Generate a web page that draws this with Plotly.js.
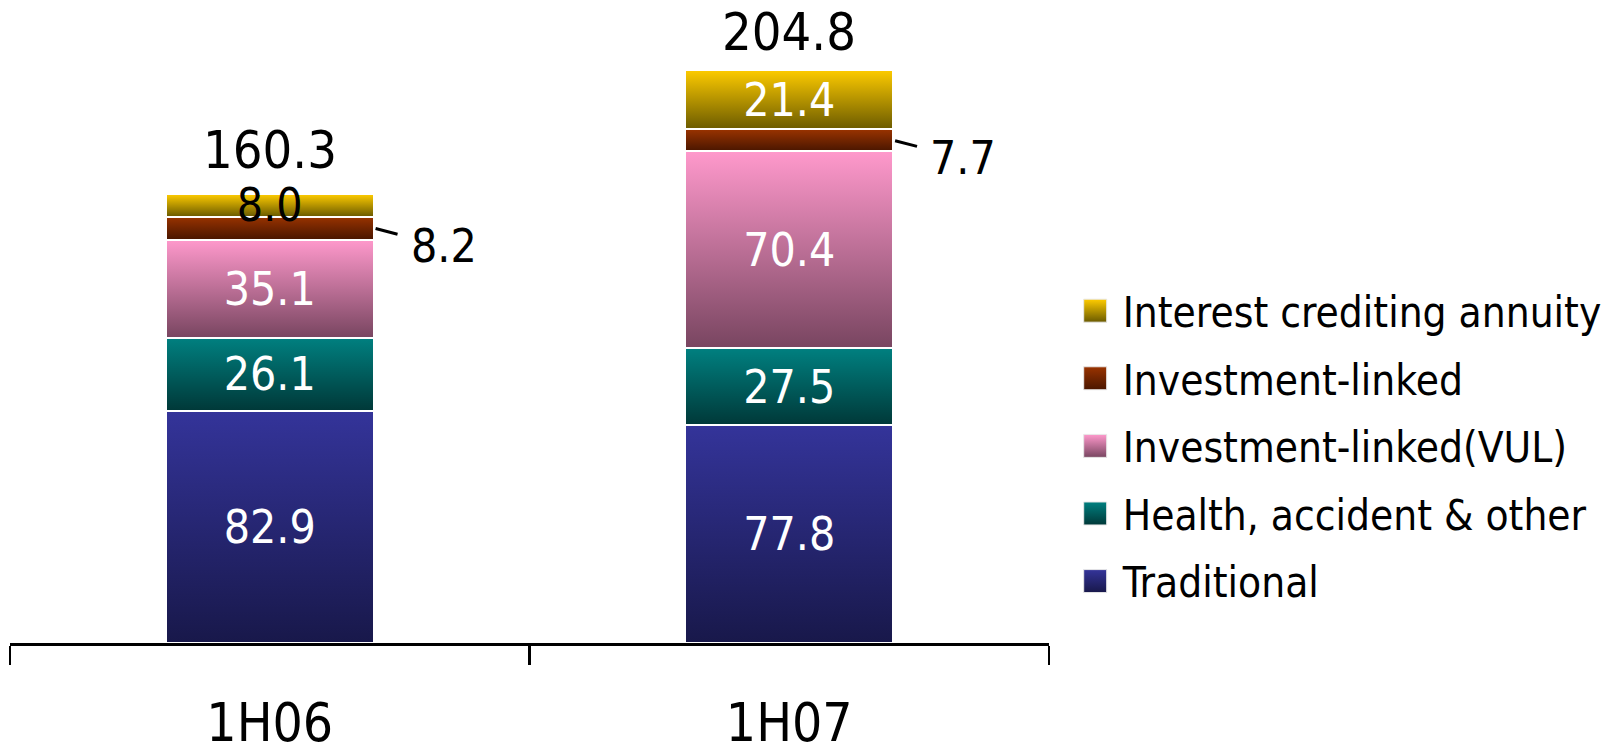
<!DOCTYPE html>
<html>
<head>
<meta charset="utf-8">
<script src="https://cdn.plot.ly/plotly-3.0.1.min.js"></script>
<style>
  html, body { margin: 0; padding: 0; background: #fff; }
  #chart { width: 1609px; height: 749px; }
</style>
</head>
<body>
<div id="chart"></div>
<script>
// Half-year periods
const categories = ['1H06', '1H07'];

// Segment values by product line
const traditional = [82.9, 77.8];
const health = [26.1, 27.5];
const vul = [35.1, 70.4];
const investmentLinked = [8.2, 7.7];
const interestAnnuity = [8.0, 21.4];

const seriesNames = [
  'Traditional',
  'Health, accident & other',
  'Investment-linked(VUL)',
  'Investment-linked',
  'Interest crediting annuity'
];
const seriesValues = [traditional, health, vul, investmentLinked, interestAnnuity];

// Top / bottom colours of each segment's vertical gradient
const gradTop = ['#34349A', '#008080', '#FF99CC', '#993300', '#FFCC00'];
const gradBottom = ['#18184A', '#003838', '#784560', '#4A1600', '#6A5A00'];

const FONT = '"DejaVu Sans Condensed", "DejaVu Sans", sans-serif';
const BARGAP = 0.6;
const halfBar = (1 - BARGAP) / 2;

const fmt = v => v.toFixed(1);

// Labels drawn inside the bars; the thin Investment-linked band is labelled outside
const insideText = [
  traditional.map(fmt),
  health.map(fmt),
  vul.map(fmt),
  investmentLinked.map(() => ''),
  interestAnnuity.map(fmt)
];
const insideColor = [
  ['#fff', '#fff'],
  ['#fff', '#fff'],
  ['#fff', '#fff'],
  ['#fff', '#fff'],
  ['#000', '#fff']
];

// Legend lists the top segment first
const traces = seriesNames.map((name, i) => ({
  type: 'bar',
  name: name,
  x: categories,
  y: seriesValues[i],
  text: insideText[i],
  textposition: 'inside',
  insidetextanchor: 'middle',
  constraintext: 'none',
  textfont: { family: FONT, size: 46, color: insideColor[i] },
  marker: { color: gradTop[i], line: { color: '#ffffff', width: 2 } },
  legendgroup: 'g' + i,
  legendrank: seriesNames.length - i,
  hoverinfo: 'skip'
}));

// Stack totals
const totals = categories.map((c, j) => seriesValues.reduce((s, arr) => s + arr[j], 0));

const annotations = [];
categories.forEach((c, j) => {
  annotations.push({
    x: c, y: totals[j], xref: 'x', yref: 'y',
    text: fmt(totals[j]),
    showarrow: false, yanchor: 'bottom', yshift: j === 0 ? 12 : 6,
    font: { family: FONT, size: 52, color: '#000' }
  });
  // leader line to the Investment-linked value
  const base = traditional[j] + health[j] + vul[j];
  annotations.push({
    x: j + halfBar, y: base + investmentLinked[j] / 2, xref: 'x', yref: 'y',
    text: fmt(investmentLinked[j]),
    showarrow: true, arrowhead: 0, arrowwidth: 3, arrowcolor: '#000',
    ax: 70, ay: 18, standoff: 2, startstandoff: 12,
    font: { family: FONT, size: 46, color: '#000' }
  });
});

const layout = {
  width: 1609,
  height: 749,
  margin: { l: 10, r: 560, t: 27, b: 106, autoexpand: false },
  paper_bgcolor: '#fff',
  plot_bgcolor: '#fff',
  barmode: 'stack',
  bargap: BARGAP,
  showlegend: true,
  legend: {
    x: 1.018, xanchor: 'left',
    y: 0.32, yanchor: 'middle',
    traceorder: 'grouped',
    tracegroupgap: 10,
    itemwidth: 45,
    font: { family: FONT, size: 42, color: '#000' },
    bgcolor: 'rgba(0,0,0,0)'
  },
  xaxis: {
    type: 'category',
    range: [-0.5, 1.5],
    tickson: 'boundaries',
    ticks: 'outside',
    ticklen: 19,
    tickwidth: 2.5,
    tickcolor: '#000',
    showline: true,
    linecolor: '#000',
    linewidth: 3,
    showgrid: false,
    zeroline: false,
    tickfont: { family: FONT, size: 53, color: '#000' },
    ticklabelstandoff: 31,
    fixedrange: true
  },
  yaxis: {
    range: [0, 220],
    visible: false,
    showgrid: false,
    zeroline: false,
    fixedrange: true
  },
  annotations: annotations
};

// Replace the flat bar fills with vertical gradients
function applyGradients(gd) {
  const svg = gd.querySelector('svg.main-svg');
  if (!svg) return;
  const NS = 'http://www.w3.org/2000/svg';
  let defs = svg.querySelector('defs');
  if (!defs) { defs = document.createElementNS(NS, 'defs'); svg.insertBefore(defs, svg.firstChild); }
  gradTop.forEach((top, i) => {
    const id = 'segGrad' + i;
    if (defs.querySelector('#' + id)) return;
    const lg = document.createElementNS(NS, 'linearGradient');
    lg.setAttribute('id', id);
    lg.setAttribute('x1', '0'); lg.setAttribute('y1', '0');
    lg.setAttribute('x2', '0'); lg.setAttribute('y2', '1');
    [[0, top], [1, gradBottom[i]]].forEach(([off, col]) => {
      const st = document.createElementNS(NS, 'stop');
      st.setAttribute('offset', off);
      st.setAttribute('stop-color', col);
      lg.appendChild(st);
    });
    defs.appendChild(lg);
  });
  gd.querySelectorAll('.barlayer .trace').forEach(tr => {
    const d = tr.__data__;
    if (!d || !d[0] || !d[0].trace) return;
    const idx = d[0].trace.index;
    tr.querySelectorAll('.point path').forEach(p => { p.style.fill = 'url(#segGrad' + idx + ')'; });
  });
  gd.querySelectorAll('.legend .traces').forEach(t => {
    const d = t.__data__;
    if (!d || !d[0] || !d[0].trace) return;
    const idx = d[0].trace.index;
    t.querySelectorAll('.legendpoints path').forEach(p => {
      p.setAttribute('d', 'M11.5,11.5H-11.5V-11.5H11.5Z');
      p.style.fill = 'url(#segGrad' + idx + ')';
      p.style.stroke = '#e8e8e8';
      p.style.strokeWidth = '1px';
    });
  });
}

const gd = document.getElementById('chart');
Plotly.newPlot(gd, traces, layout, { displayModeBar: false, staticPlot: true }).then(() => {
  applyGradients(gd);
  gd.on('plotly_afterplot', () => applyGradients(gd));
});
</script>
</body>
</html>
